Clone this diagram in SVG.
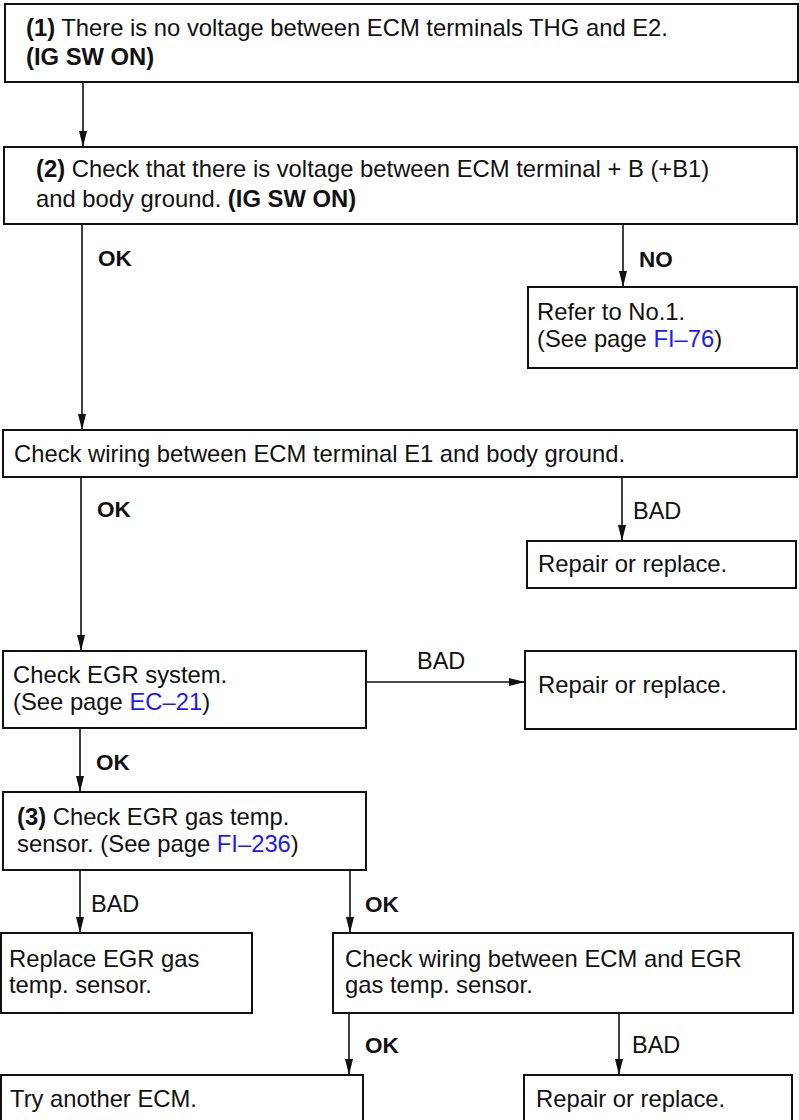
<svg xmlns="http://www.w3.org/2000/svg" width="799" height="1120" viewBox="0 0 799 1120">
  <style>
    .box { fill: #ffffff; stroke: #111111; stroke-width: 2; }
    .txt { font-family: "Liberation Sans", Arial, sans-serif; font-size: 23.8px; fill: #111111; }
    .b { font-weight: bold; }
    .lbl { font-family: "Liberation Sans", Arial, sans-serif; font-size: 22.5px; font-weight: bold; fill: #111111; }
    .lblr { font-family: "Liberation Sans", Arial, sans-serif; font-size: 23.5px; fill: #111111; }
    .link { fill: #1a1aff; }
    .wire { fill: none; stroke: #111111; stroke-width: 1.6; }
  </style>
  <defs>
    <marker id="arrow" viewBox="0 0 16 8" refX="16" refY="4" markerWidth="16" markerHeight="9" orient="auto" markerUnits="userSpaceOnUse">
      <path d="M0,0 L16,4 L0,8 z" fill="#111111"/>
    </marker>
  </defs>

  <rect width="799" height="1120" fill="#ffffff"/>

  <!-- connectors -->
  <g id="connectors">
    <line class="wire" x1="83" y1="82" x2="83" y2="147" marker-end="url(#arrow)"/>
    <line class="wire" x1="82" y1="224" x2="82" y2="430" marker-end="url(#arrow)"/>
    <line class="wire" x1="623" y1="224" x2="623" y2="287" marker-end="url(#arrow)"/>
    <line class="wire" x1="81" y1="477" x2="81" y2="651" marker-end="url(#arrow)"/>
    <line class="wire" x1="622" y1="477" x2="622" y2="541" marker-end="url(#arrow)"/>
    <line class="wire" x1="366" y1="682" x2="525" y2="682" marker-end="url(#arrow)"/>
    <line class="wire" x1="80" y1="728" x2="80" y2="792" marker-end="url(#arrow)"/>
    <line class="wire" x1="80" y1="870" x2="80" y2="933" marker-end="url(#arrow)"/>
    <line class="wire" x1="350" y1="870" x2="350" y2="933" marker-end="url(#arrow)"/>
    <line class="wire" x1="349" y1="1013" x2="349" y2="1075" marker-end="url(#arrow)"/>
    <line class="wire" x1="619" y1="1013" x2="619" y2="1075" marker-end="url(#arrow)"/>

    <text class="lbl" x="98" y="266">OK</text>
    <text class="lbl" x="639" y="267">NO</text>
    <text class="lbl" x="97" y="517">OK</text>
    <text class="lblr" x="633" y="519">BAD</text>
    <text class="lblr" x="417" y="669">BAD</text>
    <text class="lbl" x="96" y="770">OK</text>
    <text class="lblr" x="91" y="912">BAD</text>
    <text class="lbl" x="365" y="912">OK</text>
    <text class="lbl" x="365" y="1053">OK</text>
    <text class="lblr" x="632" y="1053">BAD</text>
  </g>

  <g id="step1">
    <rect class="box" x="5" y="4" width="793" height="78"/>
    <text class="txt" x="26" y="36"><tspan class="b">(1)</tspan> There is no voltage between ECM terminals THG and E2.</text>
    <text class="txt b" x="26" y="65">(IG SW ON)</text>
  </g>

  <g id="step2">
    <rect class="box" x="4" y="147" width="793" height="77"/>
    <text class="txt" x="36" y="177"><tspan class="b">(2)</tspan> Check that there is voltage between ECM terminal + B (+B1)</text>
    <text class="txt" x="36" y="207">and body ground. <tspan class="b">(IG SW ON)</tspan></text>
  </g>

  <g id="refer-no1">
    <rect class="box" x="528" y="287" width="269" height="81"/>
    <text class="txt" x="537" y="320">Refer to No.1.</text>
    <text class="txt" x="537" y="347">(See page <tspan class="link">FI–76</tspan>)</text>
  </g>

  <g id="check-e1">
    <rect class="box" x="3" y="430" width="794" height="47"/>
    <text class="txt" x="14" y="462">Check wiring between ECM terminal E1 and body ground.</text>
  </g>

  <g id="repair-1">
    <rect class="box" x="527" y="541" width="269" height="47"/>
    <text class="txt" x="538" y="572">Repair or replace.</text>
  </g>

  <g id="check-egr">
    <rect class="box" x="3" y="651" width="363" height="77"/>
    <text class="txt" x="13" y="683">Check EGR system.</text>
    <text class="txt" x="13" y="710">(See page <tspan class="link">EC–21</tspan>)</text>
  </g>

  <g id="repair-2">
    <rect class="box" x="525" y="651" width="271" height="78"/>
    <text class="txt" x="538" y="693">Repair or replace.</text>
  </g>

  <g id="step3">
    <rect class="box" x="3" y="792" width="363" height="78"/>
    <text class="txt" x="17" y="825"><tspan class="b">(3)</tspan> Check EGR gas temp.</text>
    <text class="txt" x="17" y="852">sensor. (See page <tspan class="link">FI–236</tspan>)</text>
  </g>

  <g id="replace-sensor">
    <rect class="box" x="1" y="933" width="251" height="80"/>
    <text class="txt" x="9" y="967">Replace EGR gas</text>
    <text class="txt" x="9" y="993">temp. sensor.</text>
  </g>

  <g id="check-sensor-wiring">
    <rect class="box" x="333" y="933" width="460" height="80"/>
    <text class="txt" x="345" y="967">Check wiring between ECM and EGR</text>
    <text class="txt" x="345" y="993">gas temp. sensor.</text>
  </g>

  <g id="try-ecm">
    <rect class="box" x="1" y="1075" width="362" height="60"/>
    <text class="txt" x="10" y="1107">Try another ECM.</text>
  </g>

  <g id="repair-3">
    <rect class="box" x="524" y="1075" width="268" height="60"/>
    <text class="txt" x="536" y="1107">Repair or replace.</text>
  </g>
</svg>
